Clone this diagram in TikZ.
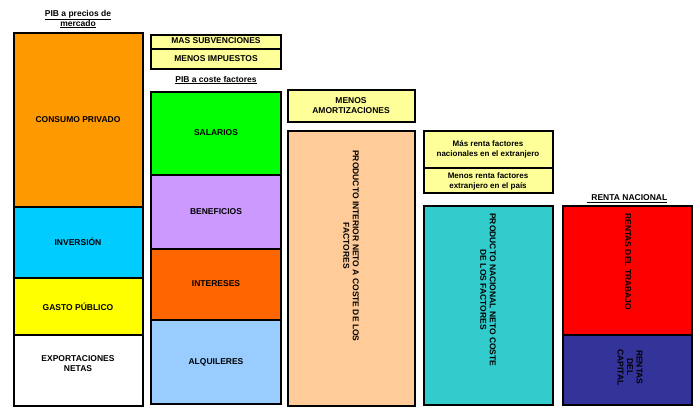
\documentclass[tikz,border=0pt]{standalone}
\usepackage{fontspec}
\setmainfont{Liberation Sans}
\begin{document}
\begin{tikzpicture}[x=1pt,y=-1pt,
  bx/.style={draw=black,line width=2.5pt},
  lbl/.style={font=\bfseries\fontsize{8.5}{10}\selectfont,align=center,inner sep=0pt},
  vl/.style={lbl,rotate=-90,anchor=west,font=\bfseries\fontsize{8.5}{9.5}\selectfont}]
\useasboundingbox[fill=white] (0,0) rectangle (700,411);
\definecolor{cOr}{HTML}{FF9900}\definecolor{cCy}{HTML}{00CCFF}
\definecolor{cYe}{HTML}{FFFF00}\definecolor{cLy}{HTML}{FFFF99}
\definecolor{cGr}{HTML}{00FF00}\definecolor{cLi}{HTML}{CC99FF}
\definecolor{cRo}{HTML}{FF6600}\definecolor{cLb}{HTML}{99CCFF}
\definecolor{cPe}{HTML}{FFCC99}\definecolor{cTe}{HTML}{33CCCC}
\definecolor{cRe}{HTML}{FF0000}\definecolor{cNa}{HTML}{333399}
% column 1
\node[lbl] (t1) at (78,19) {\underline{PIB a precios de}\\\underline{mercado}};
\draw[bx,fill=cOr] (14,33) rectangle (143,207);
\draw[bx,fill=cCy] (14,207) rectangle (143,278);
\draw[bx,fill=cYe] (14,278) rectangle (143,335);
\draw[bx,fill=white] (14,335) rectangle (143,406);
\node[lbl] (c1) at (78,120) {CONSUMO PRIVADO};
\node[lbl] (c2) at (78,242) {INVERSIÓN};
\node[lbl] (c3) at (78,307) {GASTO PÚBLICO};
\node[lbl] (c4) at (78,364) {EXPORTACIONES\\NETAS};
% column 2
\draw[bx,fill=cLy] (151,35) rectangle (281,49);
\draw[bx,fill=cLy] (151,49) rectangle (281,69);
\node[lbl] (s1) at (216,41) {MAS SUBVENCIONES};
\node[lbl] (s2) at (216,59) {MENOS IMPUESTOS};
\node[lbl] (t2) at (216,80) {\underline{PIB a coste factores}};
\draw[bx,fill=cGr] (151,92) rectangle (281,175);
\draw[bx,fill=cLi] (151,175) rectangle (281,249);
\draw[bx,fill=cRo] (151,249) rectangle (281,320);
\draw[bx,fill=cLb] (151,320) rectangle (281,404);
\node[lbl] (f1) at (216,133) {SALARIOS};
\node[lbl] (f2) at (216,212) {BENEFICIOS};
\node[lbl] (f3) at (216,284) {INTERESES};
\node[lbl] (f4) at (216,362) {ALQUILERES};
% column 3
\draw[bx,fill=cLy] (288,90) rectangle (415,122);
\node[lbl] (a1) at (351,106) {MENOS\\AMORTIZACIONES};
\draw[bx,fill=cPe] (288,131) rectangle (415,406);
\node[vl] (p1) at (351,150) {PRODUCTO INTERIOR NETO A COSTE DE LOS\\FACTORES};
% column 4
\draw[bx,fill=cLy] (424,131) rectangle (553,168);
\draw[bx,fill=cLy] (424,168) rectangle (553,193);
\node[lbl,font=\bfseries\fontsize{8}{10}\selectfont] (r1) at (488,149) {Más renta factores\\nacionales en el extranjero};
\node[lbl,font=\bfseries\fontsize{8}{10}\selectfont] (r2) at (488,181) {Menos renta factores\\extranjero en el país};
\draw[bx,fill=cTe] (424,206) rectangle (553,405);
\node[vl] (p2) at (488,213) {PRODUCTO NACIONAL NETO COSTE\\DE LOS FACTORES};
% column 5
\node[lbl] (t3) at (627,199) {\underline{\ \ RENTA NACIONAL}};
\draw[bx,fill=cRe] (563,206) rectangle (692,335);
\draw[bx,fill=cNa] (563,335) rectangle (692,405);
\node[vl] (n1) at (628,213) {RENTAS DEL TRABAJO};
\node[vl] (n2) at (630,349) {RENTAS\\DEL\\CAPITAL};
\end{tikzpicture}
\end{document}
